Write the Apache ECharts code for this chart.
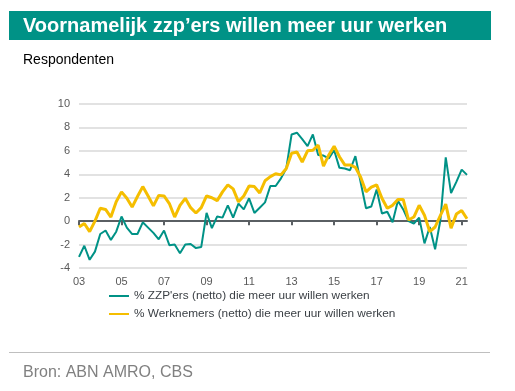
<!DOCTYPE html>
<html>
<head>
<meta charset="utf-8">
<script src="https://cdn.jsdelivr.net/npm/echarts@6/dist/echarts.min.js"></script>
<style>
html,body{margin:0;padding:0;background:#fff;}
#c{width:515px;height:391px;}
</style>
</head>
<body>
<div id="c"></div>
<script>
const startYear = 2003;
const pointCount = 74;
const tickLabels = ['03','05','07','09','11','13','15','17','19','21'];
const seriesNames = ["% ZZP'ers (netto) die meer uur willen werken", "% Werknemers (netto) die meer uur willen werken"];
const zzp = [
 -3.05,-2.1,-3.3,-2.6,-1.1,-0.8,-1.6,-0.9,
 0.4,-0.55,-1.1,-1.1,-0.1,-0.55,-1.0,-1.55,
 -0.8,-2.05,-2.0,-2.75,-2.0,-1.95,-2.3,-2.2,
 0.7,-0.6,0.4,0.3,1.35,0.3,1.5,1.0,
 1.95,0.7,1.15,1.6,3.0,3.0,3.65,4.5,
 7.4,7.55,7.0,6.4,7.4,5.65,5.6,5.35,
 6.05,4.55,4.5,4.35,5.55,3.3,1.1,1.25,
 2.7,0.65,0.8,-0.1,1.75,1.0,0.0,-0.2,
 0.3,-1.9,-0.5,-2.4,0.1,5.45,2.4,3.35,
 4.4,3.95
];
const werknemers = [
 -0.5,-0.2,-0.9,0.0,1.1,1.0,0.35,1.65,
 2.5,1.95,1.2,2.1,2.95,2.15,1.3,2.2,
 2.15,1.5,0.35,1.35,1.95,1.15,0.7,1.15,
 2.15,2.0,1.75,2.5,3.1,2.75,1.65,2.15,
 3.0,2.95,2.4,3.45,3.8,4.05,3.95,4.5,
 5.8,5.9,5.05,6.0,6.05,6.5,4.7,5.65,
 6.4,5.5,4.8,4.8,4.6,3.75,2.5,2.9,
 3.1,1.95,1.1,1.35,1.85,1.85,0.1,0.35,
 1.35,0.5,-0.9,-0.5,0.5,1.45,-0.6,0.6,
 0.9,0.2
];
const categories = [];
for (let i = 0; i < pointCount; i++) {
  categories.push((startYear + Math.floor(i / 4)) + 'K' + (i % 4 + 1));
}

const teal = '#009286';
const gold = '#f5be00';
const chart = echarts.init(document.getElementById('c'), null, {renderer: 'canvas'});
chart.setOption({
  animation: false,
  backgroundColor: '#fff',
  textStyle: {fontFamily: 'Liberation Sans, Arial, sans-serif'},
  graphic: [
    {type: 'rect', shape: {x: 9, y: 11, width: 482, height: 29}, style: {fill: teal}, silent: true},
    {type: 'text', x: 23, y: 26, style: {text: 'Voornamelijk zzp\u2019ers willen meer uur werken', fill: '#fff', font: 'bold 20px "Liberation Sans", Arial, sans-serif', verticalAlign: 'middle'}},
    {type: 'text', x: 23, y: 60, style: {text: 'Respondenten', fill: '#000', font: '14px "Liberation Sans", Arial, sans-serif', verticalAlign: 'middle'}},
    {type: 'line', shape: {x1: 9, y1: 352.5, x2: 490, y2: 352.5}, style: {stroke: '#bfbfbf', lineWidth: 1}},
    {type: 'text', x: 23, y: 373, style: {text: 'Bron: ABN AMRO, CBS', fill: '#808080', font: '16px "Liberation Sans", Arial, sans-serif', verticalAlign: 'middle'}}
  ],
  grid: {left: 79, right: 48, top: 104, bottom: 123, containLabel: false},
  legend: {
    orient: 'vertical', left: 104, top: 285, itemGap: 6,
    itemWidth: 20, itemHeight: 2, icon: 'rect',
    textStyle: {fontSize: 11.8, color: '#3a3f44', fontFamily: 'Liberation Sans, Arial, sans-serif'},
    data: seriesNames
  },
  xAxis: [
    {
      type: 'category', data: categories, boundaryGap: false, position: 'bottom',
      axisLine: {show: false, onZero: false}, axisTick: {show: false},
      splitLine: {show: false},
      axisLabel: {interval: 7, margin: 8, fontSize: 11, color: '#595959',
        formatter: function (v, idx) { return tickLabels[Math.round(idx / 8)] || ''; }}
    },
    {
      type: 'category', data: categories, boundaryGap: false, position: 'bottom',
      axisLine: {show: true, onZero: true, lineStyle: {color: '#5a5f63', width: 2}},
      axisTick: {show: true, interval: 7, length: 4, lineStyle: {color: '#5a5f63', width: 2}},
      axisLabel: {show: false}, splitLine: {show: false}
    }
  ],
  yAxis: {
    type: 'value', min: -4, max: 10, interval: 2,
    axisLine: {show: false}, axisTick: {show: false},
    axisLabel: {fontSize: 11, color: '#595959', margin: 9},
    splitLine: {lineStyle: {color: '#d9d9d9', width: 1.5}}
  },
  series: [
    {name: seriesNames[0], type: 'line', data: zzp, xAxisIndex: 0, symbol: 'none', color: teal, lineStyle: {width: 2, color: teal}, z: 3},
    {name: seriesNames[1], type: 'line', data: werknemers, xAxisIndex: 0, symbol: 'none', color: gold, lineStyle: {width: 3, color: gold}, z: 4}
  ]
});
</script>
</body>
</html>
